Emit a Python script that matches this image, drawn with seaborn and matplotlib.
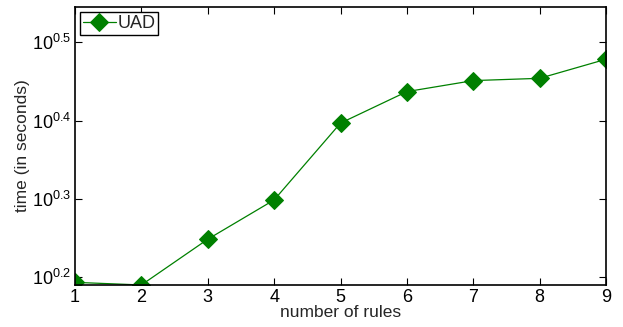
import numpy as np
import pandas as pd
import matplotlib
matplotlib.use("Agg")
from matplotlib import pyplot as plt
import seaborn as sns

# Data
num_rules = [1, 2, 3, 4, 5, 6, 7, 8, 9]
time_seconds = [1.561, 1.549, 1.772, 1.989, 2.493, 2.735, 2.825, 2.844, 3.008]
series_name = "UAD"
ytick_exponents = [0.2, 0.3, 0.4, 0.5]

df = pd.DataFrame({"rules": num_rules, "time": time_seconds, "method": series_name})

sns.set_theme(style="ticks")
plt.rcParams["font.family"] = ["Liberation Sans", "DejaVu Sans"]
plt.rcParams["mathtext.fontset"] = "custom"
plt.rcParams["mathtext.rm"] = "Liberation Sans"
plt.rcParams["mathtext.it"] = "Liberation Sans"
plt.rcParams["mathtext.default"] = "regular"

fig = plt.figure(figsize=(6.23, 3.27), dpi=100)
ax = fig.add_axes([0.1204, 0.1284, 0.8523, 0.8502])

sns.lineplot(
    data=df, x="rules", y="time", hue="method",
    palette=["#008000"], marker="D", markersize=9.5,
    markeredgecolor="#008000", linewidth=0.9, ax=ax,
)

ax.set_yscale("log")
ax.set_xlim(1, 9)
ax.set_ylim(10 ** 0.19, 10 ** 0.545)
ax.set_xticks(num_rules)
ax.set_xticklabels([str(v) for v in num_rules])
ax.set_yticks([10 ** e for e in ytick_exponents])
ax.set_yticklabels([r"$10^{%.1f}$" % e for e in ytick_exponents])
ax.yaxis.set_minor_locator(matplotlib.ticker.NullLocator())

ax.tick_params(axis="both", which="major", direction="in", length=5, width=0.8,
               top=True, right=True, labelsize=13, colors="black", pad=3)
for s in ax.spines.values():
    s.set_visible(True)
    s.set_linewidth(1.2)
    s.set_color("black")

ax.set_xlabel("number of rules", fontsize=12.5, labelpad=-1)
ax.set_ylabel("time (in seconds)", fontsize=12.5, labelpad=1)

leg = ax.legend(loc="upper left", fontsize=13, frameon=True, fancybox=False,
                edgecolor="black", framealpha=1, handlelength=1.8,
                handletextpad=0.1, borderpad=0.15, borderaxespad=0.3)
leg.get_frame().set_linewidth(1.0)

fig.savefig("out.png", dpi=100)
